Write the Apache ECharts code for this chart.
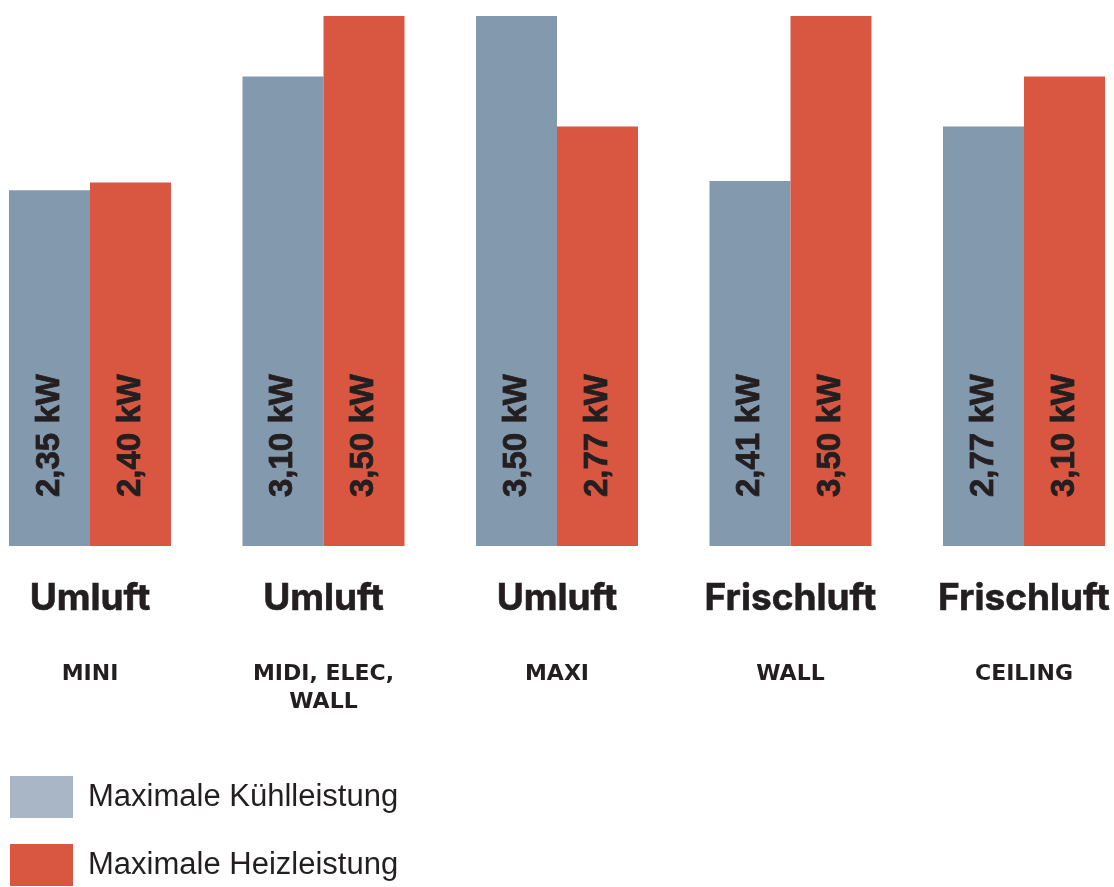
<!DOCTYPE html>
<html>
<head>
<meta charset="utf-8">
<script src="https://cdn.jsdelivr.net/npm/echarts@6/dist/echarts.min.js"></script>
<style>
html,body{margin:0;padding:0;background:#fff;}
#chart{width:1114px;height:887px;}
</style>
</head>
<body>
<div id="chart"></div>
<script>
const categories = ['Umluft', 'Umluft', 'Umluft', 'Frischluft', 'Frischluft'];
const models = ['MINI', 'MIDI, ELEC,\nWALL', 'MAXI', 'WALL', 'CEILING'];
const seriesNames = ['Maximale Kühlleistung', 'Maximale Heizleistung'];
const cooling = [2.35, 3.10, 3.50, 2.41, 2.77];
const heating = [2.40, 3.50, 2.77, 3.50, 3.10];

const SANS = "'Liberation Sans', Arial, Helvetica, sans-serif";
const GEO = "Inter, 'Open Sans', sans-serif";
const WIDE = "'DejaVu Sans', Verdana, sans-serif";

const chart = echarts.init(document.getElementById('chart'));
const valueLabel = {
  show: true,
  position: 'insideBottom',
  rotate: 90,
  align: 'left',
  verticalAlign: 'middle',
  distance: 49,
  color: '#231f20',
  textBorderColor: '#231f20',
  textBorderWidth: 0.8,
  fontFamily: SANS,
  fontWeight: 'bold',
  fontSize: 33,
  formatter: p => p.value.toFixed(2).replace('.', ',') + ' kW'
};
chart.setOption({
  animation: false,
  grid: { left: -26.75, width: 1167.5, top: 16, bottom: 341, outerBoundsMode: 'none', containLabel: false },
  legend: {
    orient: 'vertical',
    left: 10,
    top: 776,
    padding: 0,
    itemWidth: 63,
    itemHeight: 42,
    itemGap: 26,
    icon: 'rect',
    textStyle: { fontFamily: SANS, fontSize: 31, color: '#231f20', padding: [10, 0, 0, 10] },
    data: [
      { name: seriesNames[0], itemStyle: { color: '#a9b6c5' } },
      { name: seriesNames[1], itemStyle: { color: '#d95741' } }
    ]
  },
  xAxis: [
    {
      type: 'category',
      data: categories,
      axisLine: { show: false },
      axisTick: { show: false },
      axisLabel: {
        interval: 0,
        margin: 33,
        fontFamily: GEO,
        fontWeight: 'bold',
        fontSize: 37,
        lineHeight: 40,
        color: '#231f20',
        textBorderColor: '#231f20',
        textBorderWidth: 0.6
      }
    },
    {
      type: 'category',
      position: 'bottom',
      data: models,
      axisLine: { show: false },
      axisTick: { show: false },
      axisLabel: {
        interval: 0,
        margin: 114,
        fontFamily: WIDE,
        fontWeight: 'bold',
        fontSize: 22,
        lineHeight: 28,
        color: '#231f20'
      }
    }
  ],
  yAxis: {
    type: 'value',
    min: 0,
    max: 3.5,
    show: false,
    splitLine: { show: false }
  },
  series: [
    {
      name: seriesNames[0],
      type: 'bar',
      data: cooling,
      barWidth: 81,
      barGap: '0%',
      itemStyle: { color: '#8399ae' },
      label: valueLabel
    },
    {
      name: seriesNames[1],
      type: 'bar',
      data: heating,
      barWidth: 81,
      barGap: '0%',
      itemStyle: { color: '#d95741' },
      label: valueLabel
    }
  ]
});
</script>
</body>
</html>
